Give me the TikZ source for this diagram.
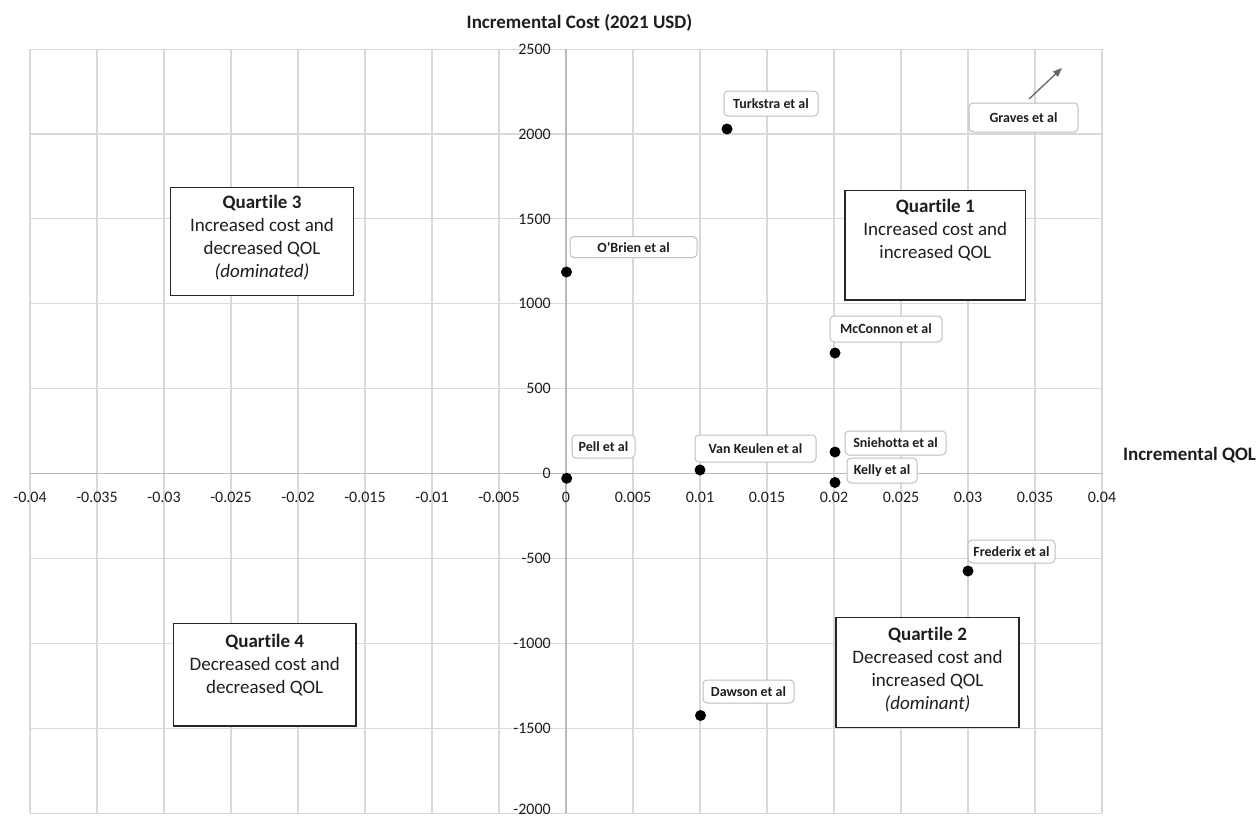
\documentclass[tikz,border=0pt]{standalone}
\usepackage{fontspec}
\setmainfont{Carlito}[RawFeature={-liga}]
\usetikzlibrary{arrows.meta}
\definecolor{gridc}{RGB}{217,217,217}
\definecolor{axisc}{RGB}{185,185,185}
\definecolor{labc}{RGB}{190,190,190}
\definecolor{txt}{RGB}{30,30,30}
\begin{document}
\begin{tikzpicture}[x=1pt,y=-1pt,
  tick/.style={font=\fontsize{16}{16}\selectfont, text=txt, inner sep=0pt},
  lab/.style={draw=labc, line width=1pt, rounded corners=4pt, fill=white,
    font=\bfseries\fontsize{14}{14}\selectfont, text=txt, inner sep=0pt},
  dot/.style={circle, fill=black, inner sep=0pt, minimum size=11pt},
  qbox/.style={draw=black!85, line width=1.3pt, fill=white, inner sep=0pt},
  qtext/.style={align=center, font=\fontsize{19}{23}\selectfont, text=txt, inner sep=0pt, anchor=north},
  axtitle/.style={font=\bfseries\fontsize{19}{19}\selectfont, text=txt, inner sep=0pt}]
\useasboundingbox[fill=white] (0,0) rectangle (1258,819);
% grid
\foreach \i in {0,...,16} \draw[gridc, line width=1.1pt] ({30+67*\i},49.1) -- ({30+67*\i},813.2);
\foreach \j in {0,...,9} \draw[gridc, line width=1.1pt] (30,{49.1+84.9*\j}) -- (1102,{49.1+84.9*\j});
% axes
\coordinate (xl) at (30,473.5);
\coordinate (xr) at (1102,473.5);
\coordinate (yt) at (566,49.1);
\coordinate (yb) at (566,813.2);
\draw[axisc, line width=1.2pt] (xl) -- (xr);
\draw[axisc, line width=1.2pt] (yt) -- (yb);
% tick labels
\foreach \v [count=\i from 0] in {-0.04,-0.035,-0.03,-0.025,-0.02,-0.015,-0.01,-0.005,0,0.005,0.01,0.015,0.02,0.025,0.03,0.035,0.04}
  \node[tick] (xt\i) at ({30+67*\i},497) {\v};
\foreach \v [count=\j from 0] in {2500,2000,1500,1000,500,0,-500,-1000,-1500}
  \node[tick, anchor=east] (ytk\j) at (551,{49.1+84.9*\j}) {\v};
\node[tick, anchor=east] (ytk9) at (551,809.5) {-2000};
% axis titles
\node[axtitle] (ttl) at (579.5,23) {Incremental Cost (2021 USD)};
\node[axtitle] (qol) at (1189.5,455) {Incremental QOL};
% quartile boxes
\node[qbox, minimum width=180.7pt, minimum height=109.3pt] (q1) at (935.3,245.3) {};
\node[qtext, yshift=-9pt] (q1t) at (q1.north) {\textbf{Quartile 1}\\Increased cost and\\increased QOL};
\node[qbox, minimum width=182.6pt, minimum height=108.4pt] (q3) at (262,241.5) {};
\node[qtext, yshift=-8.7pt] (q3t) at (q3.north) {\textbf{Quartile 3}\\Increased cost and\\decreased QOL\\\textit{(dominated)}};
\node[qbox, minimum width=182.7pt, minimum height=102.7pt] (q4) at (264.7,674.7) {};
\node[qtext, yshift=-11.4pt] (q4t) at (q4.north) {\textbf{Quartile 4}\\Decreased cost and\\decreased QOL};
\node[qbox, minimum width=183pt, minimum height=109.6pt] (q2) at (927.5,672.5) {};
\node[qtext, yshift=-9.6pt] (q2t) at (q2.north) {\textbf{Quartile 2}\\Decreased cost and\\increased QOL\\\textit{(dominant)}};
% data labels
\node[lab, minimum width=94pt, minimum height=25pt] (lturk) at (771,103.5) {Turkstra et al};
\node[lab, minimum width=109pt, minimum height=29pt] (lgrav) at (1023.5,117.5) {Graves et al};
\node[lab, minimum width=127pt, minimum height=21pt] (lobr) at (633.5,247) {O'Brien et al};
\node[lab, minimum width=112pt, minimum height=26pt] (lmcc) at (886,329) {McConnon et al};
\node[lab, minimum width=101pt, minimum height=24pt] (lsni) at (895.5,443) {Sniehotta et al};
\node[lab, minimum width=70pt, minimum height=25pt] (lkel) at (882,470.5) {Kelly et al};
\node[lab, minimum width=63pt, minimum height=23pt] (lpel) at (603.5,446.5) {Pell et al};
\node[lab, minimum width=121pt, minimum height=27pt] (lvan) at (755.5,448.5) {Van Keulen et al};
\node[lab, minimum width=87pt, minimum height=23pt] (lfre) at (1011.5,551.5) {Frederix et al};
\node[lab, minimum width=91pt, minimum height=23pt] (ldaw) at (748.5,691.5) {Dawson et al};
% data points
\node[dot] (pturk) at (727,129) {};
\node[dot] (pobr) at (566.5,272) {};
\node[dot] (pmcc) at (835,353) {};
\node[dot] (psni) at (835,452) {};
\node[dot] (pkel) at (835,482.5) {};
\node[dot] (ppel) at (566.7,478.3) {};
\node[dot] (pvan) at (700,470) {};
\node[dot] (pfre) at (968,571) {};
\node[dot] (pdaw) at (700.5,715.5) {};
% Graves arrow
\coordinate (gs) at (1029,99);
\coordinate (ge) at (1062,68);
\draw[black!60, line width=1.3pt, -{Triangle[length=9pt,width=7pt]}] (gs) -- (ge);
\end{tikzpicture}
\end{document}
